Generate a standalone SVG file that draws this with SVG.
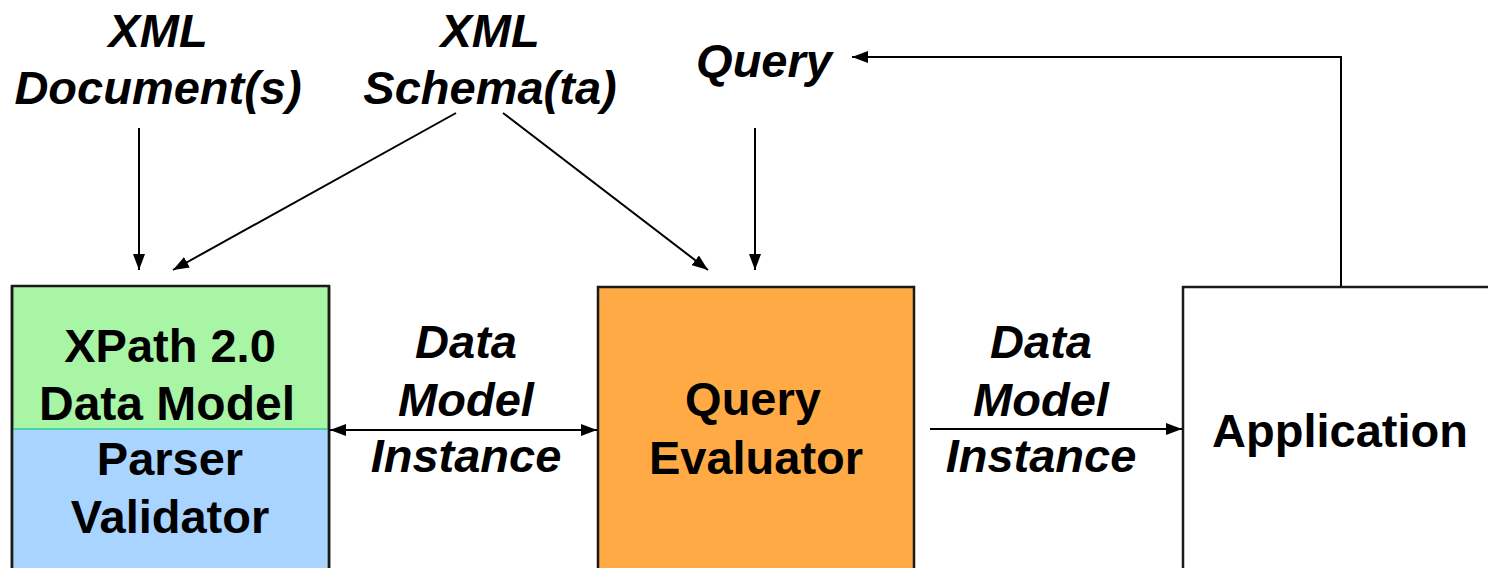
<svg xmlns="http://www.w3.org/2000/svg" width="1488" height="568" viewBox="0 0 1488 568">
<style>
.lbl{font-family:"Liberation Sans",Arial,sans-serif;font-weight:bold;font-style:italic;font-size:47px;fill:#000;text-anchor:middle}
.node{font-family:"Liberation Sans",Arial,sans-serif;font-weight:bold;font-size:47px;fill:#000;text-anchor:middle}
.box{stroke:#1a1a1a;stroke-width:2.5}
.conn{stroke:#000;stroke-width:2;fill:none}
</style>
<defs>
<marker id="ah" viewBox="0 0 16 12" refX="16" refY="6" markerWidth="16" markerHeight="12" markerUnits="userSpaceOnUse" orient="auto-start-reverse">
<path d="M0,0 L16,6 L0,12 Z" fill="#000"/>
</marker>
</defs>
<rect width="1488" height="568" fill="#fff"/>
<g id="labels">
<text class="lbl" x="158" y="47">XML</text>
<text class="lbl" x="158" y="104">Document(s)</text>
<text class="lbl" x="490" y="47">XML</text>
<text class="lbl" x="490" y="104">Schema(ta)</text>
<text class="lbl" x="764" y="77">Query</text>
<text class="lbl" x="466" y="358">Data</text>
<text class="lbl" x="466" y="416">Model</text>
<text class="lbl" x="466" y="472">Instance</text>
<text class="lbl" x="1041" y="358">Data</text>
<text class="lbl" x="1041" y="416">Model</text>
<text class="lbl" x="1041" y="472">Instance</text>
</g>
<g id="node-datamodel">
<rect class="box" x="12" y="286" width="317" height="300" fill="#a9f5a6"/>
<rect x="13.5" y="429" width="314" height="156" fill="#a8d4ff"/>
<line x1="13" y1="429" x2="328" y2="429" stroke="#2ecc9a" stroke-width="1.5"/>
<line x1="12" y1="286" x2="12" y2="570" stroke="#1a1a1a" stroke-width="2.5"/>
<line x1="329" y1="286" x2="329" y2="570" stroke="#1a1a1a" stroke-width="2.5"/>
<text class="node" x="170" y="362">XPath 2.0</text>
<text class="node" x="167" y="420" style="font-size:48px">Data Model</text>
<text class="node" x="170" y="475">Parser</text>
<text class="node" x="170" y="533">Validator</text>
</g>
<g id="node-evaluator">
<rect class="box" x="598" y="287" width="316" height="300" fill="#ffaa44"/>
<text class="node" x="753" y="415">Query</text>
<text class="node" x="756" y="474">Evaluator</text>
</g>
<g id="node-application">
<rect class="box" x="1183" y="287" width="320" height="300" fill="#fff"/>
<text class="node" x="1340" y="447">Application</text>
</g>
<g id="connectors">
<line class="conn" x1="139" y1="128" x2="139" y2="270" marker-end="url(#ah)"/>
<line class="conn" x1="456" y1="113" x2="173" y2="270" marker-end="url(#ah)"/>
<line class="conn" x1="503" y1="113" x2="708" y2="270" marker-end="url(#ah)"/>
<line class="conn" x1="755" y1="128" x2="755" y2="270" marker-end="url(#ah)"/>
<polyline class="conn" points="1341,286 1341,57 852,57" marker-end="url(#ah)"/>
<line class="conn" x1="330" y1="430" x2="597" y2="430" marker-start="url(#ah)" marker-end="url(#ah)"/>
<line class="conn" x1="930" y1="429" x2="1182" y2="429" marker-end="url(#ah)"/>
</g>
</svg>
